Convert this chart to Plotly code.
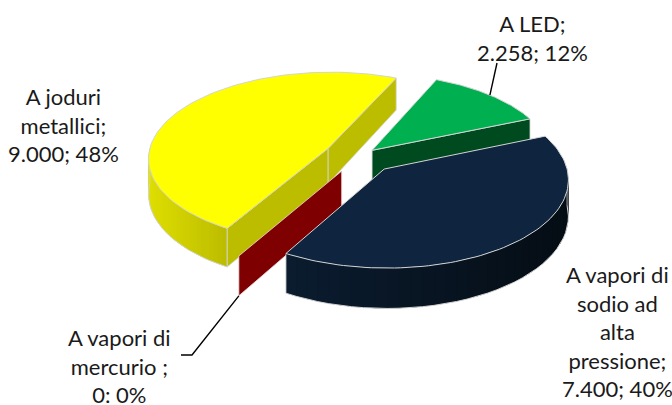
import numpy as np
import plotly.graph_objects as go

# Lampade: valori per tipologia
names = ["A vapori di sodio ad alta pressione", "A vapori di mercurio", "A joduri metallici", "A LED"]
values = [7400, 0, 9000, 2258]
labels = [
    "A vapori di<br>sodio ad<br>alta<br>pressione;<br>7.400; 40%",
    "A vapori di<br>mercurio ;<br>0: 0%",
    "A joduri<br>metallici;<br>9.000; 48%",
    "A LED;<br>2.258; 12%",
]
explode = [0.20, 0.20, 0.20, 0.095]
top_colors = ["#0F243E", "#7F0000", "#FFFF00", "#00B050"]
face_colors = ["#0A1828", "#7F0000", "#BDBD00", "#004A1F"]
rim_left = ["#0B1C30", "#7F0000", "#DEDE00", "#004A1F"]
rim_right = ["#050D14", "#7F0000", "#BCBC00", "#004A1F"]
label_pos = [(617, 331), (119, 366), (63, 125), (532, 38)]
paint_order = [3, 2, 1, 0]

# Pie geometry on a pixel-sized plane
CX, CY, R = 360.0, 156.0, 180.0
TILT, PERSP, DEPTH = 0.476, 0.105, 35.5
FIRST_ANGLE = 67.2
EDGE = "#D4D4D4"


def project(wx, wy):
    """Unit-disc coordinates (wy pointing away from the viewer) to plot coordinates."""
    s = 1.0 / (1.0 + PERSP * wy)
    return CX + wx * R * s, CY - wy * R * TILT * s, s


def rim_point(theta, ox, oy):
    t = np.radians(theta)
    return ox + np.sin(t), oy + np.cos(t)


def blend(c1, c2, t):
    a = [int(c1[i:i + 2], 16) for i in (1, 3, 5)]
    b = [int(c2[i:i + 2], 16) for i in (1, 3, 5)]
    return "rgb({},{},{})".format(*[round(p + (q - p) * t) for p, q in zip(a, b)])


def poly(xs, ys, fill, line=EDGE, width=1.0):
    fig.add_trace(go.Scatter(
        x=list(xs), y=list(ys), mode="lines", fill="toself", fillcolor=fill,
        line=dict(color=line, width=width), hoverinfo="skip", showlegend=False,
    ))


fig = go.Figure()

total = sum(values)
spans = [v / total * 360 for v in values]
starts = [FIRST_ANGLE + sum(spans[:i]) for i in range(len(values))]

for i in paint_order:
    a1, a2 = starts[i], starts[i] + spans[i]
    mid = np.radians((a1 + a2) / 2)
    ox, oy = explode[i] * np.sin(mid), explode[i] * np.cos(mid)
    ax, ay, as_ = project(ox, oy)

    # Radial walls that face the viewer
    for ang, visible in ((a1, np.sin(np.radians(a1)) < 0), (a2, np.sin(np.radians(a2)) > 0 and spans[i] > 0)):
        if not visible:
            continue
        px, py, ps = project(*rim_point(ang, ox, oy))
        poly([ax, px, px, ax, ax],
             [ay, py, py + DEPTH * ps, ay + DEPTH * as_, ay],
             face_colors[i], EDGE if i != 1 else "#E8DADA", 0.8)

    # Curved outer wall: each strip runs under the next one so no seams show
    lo, hi = max(a1, 90), min(a2, 270)
    if hi > lo and spans[i] > 0:
        steps = 36
        grid = np.linspace(lo, hi, steps + 1)
        pts = [project(*rim_point(g, ox, oy)) for g in grid]
        xs_all = [p[0] for p in pts]
        xmin, xmax = min(xs_all), max(xs_all)
        for k in range(steps):
            seg = pts[k:k + 3]
            t = (0.5 * (pts[k][0] + pts[k + 1][0]) - xmin) / (xmax - xmin)
            col = blend(rim_left[i], rim_right[i], t)
            xs = [p[0] for p in seg] + [p[0] for p in reversed(seg)]
            ys = [p[1] for p in seg] + [p[1] + DEPTH * p[2] for p in reversed(seg)]
            fig.add_trace(go.Scatter(
                x=xs + xs[:1], y=ys + ys[:1], mode="lines", fill="toself", fillcolor=col,
                line=dict(width=0), hoverinfo="skip", showlegend=False,
            ))
        fig.add_trace(go.Scatter(
            x=xs_all, y=[p[1] + DEPTH * p[2] for p in pts], mode="lines",
            line=dict(color=EDGE, width=1), hoverinfo="skip", showlegend=False,
        ))
        # Vertical edges closing the wall
        for p in (pts[0], pts[-1]):
            fig.add_trace(go.Scatter(
                x=[p[0], p[0]], y=[p[1], p[1] + DEPTH * p[2]], mode="lines",
                line=dict(color=EDGE, width=0.8), hoverinfo="skip", showlegend=False,
            ))

    # Top face
    if spans[i] > 0:
        grid = np.linspace(a1, a2, 90)
        pts = [project(*rim_point(g, ox, oy)) for g in grid]
        poly([ax] + [p[0] for p in pts] + [ax], [ay] + [p[1] for p in pts] + [ay], top_colors[i])

# Leader lines from the slice rim to the labels
led_mid = starts[3] + spans[3] / 2
led_off = (explode[3] * np.sin(np.radians(led_mid)), explode[3] * np.cos(np.radians(led_mid)))
lx, ly, _ = project(*rim_point(led_mid, *led_off))
fig.add_trace(go.Scatter(x=[lx, 497], y=[ly, 63], mode="lines",
                         line=dict(color="black", width=1.4), hoverinfo="skip", showlegend=False))

hg = starts[1]
hg_off = (explode[1] * np.sin(np.radians(hg)), explode[1] * np.cos(np.radians(hg)))
mx, my, ms = project(*rim_point(hg, *hg_off))
fig.add_trace(go.Scatter(x=[mx, 192, 181], y=[my + DEPTH * ms, 355, 355], mode="lines",
                         line=dict(color="black", width=1.4), hoverinfo="skip", showlegend=False))

for text, (tx, ty) in zip(labels, label_pos):
    fig.add_annotation(x=tx, y=ty, xref="x", yref="y", text=text, showarrow=False,
                       align="center", xanchor="center", yanchor="middle",
                       font=dict(family="Lato", size=22, color="#1A1A1A"))

fig.update_layout(
    width=672, height=405, margin=dict(l=0, r=0, t=0, b=0),
    paper_bgcolor="white", plot_bgcolor="white", showlegend=False,
    xaxis=dict(range=[0, 672], visible=False, fixedrange=True),
    yaxis=dict(range=[405, 0], visible=False, fixedrange=True),
)
fig.write_html("out.html", config={"displayModeBar": False})
